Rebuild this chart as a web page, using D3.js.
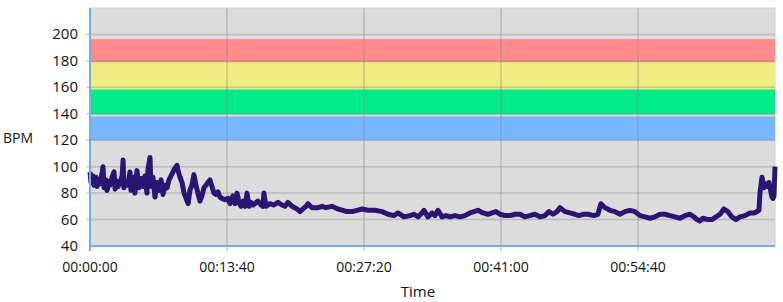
<!DOCTYPE html>
<html>
<head>
<meta charset="utf-8">
<script src="https://cdn.jsdelivr.net/npm/d3@7"></script>
<style>
body{margin:0;background:#fff;}
text{font-family:"Open Sans",sans-serif;fill:#111;}
</style>
</head>
<body>
<div id="chart"></div>
<script>
// tiempo en segundos desde el inicio
const tiempos=[0,6,18,24,36,42,54,60,72,78,84,96,102,114,120,132,144,150,162,168,180,192,198,203,215,227,239,245,257,269,281,293,305,317,329,341,347,359,365,377,389,401,413,425,437,449,461,473,485,497,509,521,527,539,551,563,575,587,598,610,622,634,646,658,670,682,694,706,718,730,742,754,766,778,790,808,826,838,856,868,880,892,904,916,928,940,952,964,976,1005,1023,1035,1041,1053,1077,1101,1125,1149,1167,1185,1209,1239,1257,1275,1293,1305,1329,1365,1389,1412,1448,1484,1514,1538,1568,1598,1628,1664,1706,1748,1784,1819,1843,1879,1915,1939,1963,1987,1999,2023,2047,2065,2083,2107,2131,2155,2185,2214,2244,2274,2298,2322,2352,2382,2406,2430,2454,2484,2514,2544,2574,2603,2633,2663,2693,2723,2747,2771,2795,2813,2843,2873,2903,2927,2951,2981,3016,3040,3058,3082,3112,3142,3172,3202,3232,3262,3292,3322,3352,3382,3411,3441,3471,3501,3531,3561,3591,3615,3633,3651,3669,3699,3723,3747,3771,3794,3818,3842,3866,3890,3920,3950,3974,3992,4004,4010,4022,4034,4046,4052,4064,4082,4088,4094,4100];

const bpm=[96,88,93,86,92,85,90,87,95,100,84,90,82,89,86,92,96,83,89,85,88,93,105,84,88,86,96,82,92,80,97,84,91,85,93,80,98,107,85,92,77,88,82,90,79,86,84,90,93,96,99,101,97,92,88,80,76,72,82,86,94,86,80,74,78,84,86,88,90,85,80,79,81,77,76,75,76,72,78,72,80,73,70,74,70,80,70,73,71,74,71,70,80,70,72,71,73,71,70,73,70,68,66,68,70,72,69,69,70,69,70,68,67,66,66,67,68,67,67,66,64,63,65,62,63,64,62,65,67,62,65,63,67,62,63,62,63,62,63,65,66,67,65,64,65,66,64,63,63,64,64,62,63,64,62,63,66,64,66,69,66,65,64,63,64,64,63,64,72,69,67,66,64,66,67,66,63,62,61,62,64,64,63,62,61,63,64,62,60,59,61,60,60,62,64,68,66,62,60,62,63,65,65,66,67,80,92,84,87,85,88,77,76,78,100,101];

// zonas de frecuencia
const zonas=[
{desde:120,hasta:138,color:"#77b5fc"},
{desde:139.5,hasta:158.5,color:"#00ec88"},
{desde:158.5,hasta:179,color:"#eeec80"},
{desde:179,hasta:196.5,color:"#fe8a8a"}
];

const ticksY=[40,60,80,100,120,140,160,180,200];
const ticksX=[0,820,1640,2460,3280];
const etiquetasX=["00:00:00","00:13:40","00:27:20","00:41:00","00:54:40"];

const datos=tiempos.map((t,i)=>({t:t,v:bpm[i]}));

const width=783,height=302;
const margin={top:8,right:8,bottom:56,left:90};

const svg=d3.select("#chart").append("svg")
.attr("width",width)
.attr("height",height);

const x=d3.scaleLinear()
.domain([0,4100])
.range([margin.left,width-margin.right]);

const y=d3.scaleLinear()
.domain([40,220])
.range([height-margin.bottom,margin.top]);

// fondo
svg.append("rect")
.attr("x",x(0))
.attr("y",y(220))
.attr("width",x(4100)-x(0))
.attr("height",y(40)-y(220))
.attr("fill","#dcdcdc")
.attr("stroke","#cfcfcf");

// BANDAS
svg.selectAll(".zona")
.data(zonas)
.enter()
.append("rect")
.attr("x",x(0))
.attr("y",d=>y(d.hasta))
.attr("width",x(4100)-x(0))
.attr("height",d=>y(d.desde)-y(d.hasta))
.attr("fill",d=>d.color);

// rejilla horizontal
svg.selectAll(".gridy")
.data(ticksY.slice(1))
.enter()
.append("line")
.attr("x1",x(0)-4)
.attr("x2",x(4100))
.attr("y1",d=>y(d))
.attr("y2",d=>y(d))
.attr("stroke","#8a8a8a")
.attr("stroke-opacity",0.4)
.attr("stroke-width",1.5);

// rejilla vertical
svg.selectAll(".gridx")
.data(ticksX.slice(1))
.enter()
.append("line")
.attr("x1",d=>x(d))
.attr("x2",d=>x(d))
.attr("y1",y(220))
.attr("y2",y(40)+5)
.attr("stroke","#8a8a8a")
.attr("stroke-opacity",0.45)
.attr("stroke-width",1.5);

// LINEA
svg.append("path")
.datum(datos)
.attr("fill","none")
.attr("stroke","#2a1672")
.attr("stroke-width",5)
.attr("stroke-linejoin","round")
.attr("d",d3.line().x(d=>x(d.t)).y(d=>y(d.v)));

// ejes
svg.append("line")
.attr("x1",x(0))
.attr("x2",x(4100))
.attr("y1",y(40))
.attr("y2",y(40))
.attr("stroke","#6fb0e2")
.attr("stroke-width",2);

svg.append("line")
.attr("x1",x(0))
.attr("x2",x(0))
.attr("y1",y(220))
.attr("y2",y(40)+5)
.attr("stroke","#6fb0e2")
.attr("stroke-width",2);

svg.selectAll(".ty")
.data(ticksY)
.enter()
.append("text")
.attr("x",78)
.attr("y",d=>y(d)+5)
.attr("text-anchor","end")
.style("font-size","15px")
.text(d=>d);

svg.selectAll(".tx")
.data(ticksX)
.enter()
.append("text")
.attr("x",d=>x(d))
.attr("y",272)
.attr("text-anchor","middle")
.style("font-size","14px")
.text((d,i)=>etiquetasX[i]);

// ETIQUETAS
svg.append("text")
.attr("x",3)
.attr("y",143)
.style("font-size","14px")
.text("BPM");

svg.append("text")
.attr("x",418)
.attr("y",297)
.attr("text-anchor","middle")
.style("font-size","15px")
.text("Time");
</script>
</body>
</html>
